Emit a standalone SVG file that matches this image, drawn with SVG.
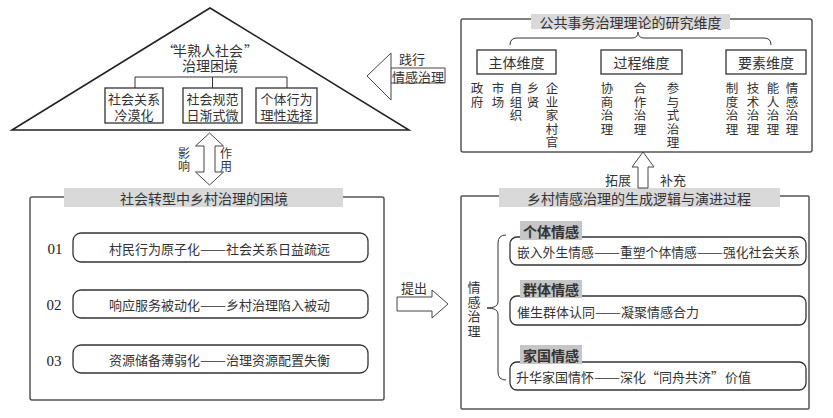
<svg xmlns="http://www.w3.org/2000/svg" width="833" height="418" viewBox="0 0 833 418">
<style>
text{font-family:"Noto Sans CJK SC","Noto Sans CJK TC",sans-serif;fill:#333;font-size:13px;dominant-baseline:central;text-anchor:middle}
.t14{font-size:14px}
.st{text-anchor:start}
.num{font-family:"Liberation Serif",serif;font-size:15px;fill:#222}
.hdr{font-size:14px;font-weight:bold;fill:#333}
.sm{font-size:12px}
.col{font-size:12.5px}
.outer{fill:none;stroke:#555;stroke-width:1.5}
.box{fill:#fff;stroke:#333;stroke-width:1.3}
.rbox{fill:#fff;stroke:#333;stroke-width:1.3}
.bar{fill:#d9d9d9}
.sbar{fill:#c6c6c6}
.ln{fill:none;stroke:#333;stroke-width:1}
.arr{fill:#fff;stroke:#444;stroke-width:1}
</style>
<rect width="833" height="418" fill="#fff"/>

<g id="triangle">
<path d="M12,130 L210,8 L409,130 Z" fill="#fff" stroke="#222" stroke-width="1.5"/>
<text class="t14 st" y="50"><tspan x="162">“</tspan><tspan x="173">半熟人社会</tspan><tspan x="244">”</tspan></text>
<text class="t14" x="210" y="65">治理困境</text>
</g>
<g id="tri-box1">
<rect class="box" x="105" y="88" width="58" height="35"/>
<text x="134" y="98.5">社会关系</text>
<text x="134" y="114">冷漠化</text>
</g>
<g id="tri-box2">
<rect class="box" x="183" y="88" width="59" height="35"/>
<text x="212.5" y="98.5">社会规范</text>
<text x="212.5" y="114">日渐式微</text>
</g>
<g id="tri-box3">
<rect class="box" x="256" y="88" width="61" height="35"/>
<text x="286.5" y="98.5">个体行为</text>
<text x="286.5" y="114">理性选择</text>
</g>

<g id="theory">
<rect class="outer" x="461" y="19" width="351" height="133" rx="2"/>
<rect class="bar" x="531" y="14" width="199" height="15"/>
<text class="t14" x="630.5" y="22">公共事务治理理论的研究维度</text>
</g>
<g id="dim-subject">
<rect class="box" x="477" y="50" width="79" height="24"/>
<text class="t14" x="516.5" y="62">主体维度</text>
<text class="col" x="477" y="87"><tspan x="477">政</tspan><tspan x="477" dy="13.5">府</tspan></text>
<text class="col" x="498" y="87"><tspan x="498">市</tspan><tspan x="498" dy="13.5">场</tspan></text>
<text class="col" x="516" y="87"><tspan x="516">自</tspan><tspan x="516" dy="13.5">组</tspan><tspan x="516" dy="13.5">织</tspan></text>
<text class="col" x="533" y="87"><tspan x="533">乡</tspan><tspan x="533" dy="13.5">贤</tspan></text>
<text class="col" x="552" y="87"><tspan x="552">企</tspan><tspan x="552" dy="13.5">业</tspan><tspan x="552" dy="13.5">家</tspan><tspan x="552" dy="13.5">村</tspan><tspan x="552" dy="13.5">官</tspan></text>
</g>
<g id="dim-process">
<rect class="box" x="601" y="50" width="81" height="24"/>
<text class="t14" x="641.5" y="62">过程维度</text>
<text class="col" x="607" y="87"><tspan x="607">协</tspan><tspan x="607" dy="13.5">商</tspan><tspan x="607" dy="13.5">治</tspan><tspan x="607" dy="13.5">理</tspan></text>
<text class="col" x="640" y="87"><tspan x="640">合</tspan><tspan x="640" dy="13.5">作</tspan><tspan x="640" dy="13.5">治</tspan><tspan x="640" dy="13.5">理</tspan></text>
<text class="col" x="673" y="87"><tspan x="673">参</tspan><tspan x="673" dy="13.5">与</tspan><tspan x="673" dy="13.5">式</tspan><tspan x="673" dy="13.5">治</tspan><tspan x="673" dy="13.5">理</tspan></text>
</g>
<g id="dim-element">
<rect class="box" x="726" y="50" width="80" height="24"/>
<text class="t14" x="766" y="62">要素维度</text>
<text class="col" x="732" y="87"><tspan x="732">制</tspan><tspan x="732" dy="13.5">度</tspan><tspan x="732" dy="13.5">治</tspan><tspan x="732" dy="13.5">理</tspan></text>
<text class="col" x="753" y="87"><tspan x="753">技</tspan><tspan x="753" dy="13.5">术</tspan><tspan x="753" dy="13.5">治</tspan><tspan x="753" dy="13.5">理</tspan></text>
<text class="col" x="773" y="87"><tspan x="773">能</tspan><tspan x="773" dy="13.5">人</tspan><tspan x="773" dy="13.5">治</tspan><tspan x="773" dy="13.5">理</tspan></text>
<text class="col" x="792" y="87"><tspan x="792">情</tspan><tspan x="792" dy="13.5">感</tspan><tspan x="792" dy="13.5">治</tspan><tspan x="792" dy="13.5">理</tspan></text>
</g>

<g id="dilemma">
<rect class="outer" x="30" y="197" width="354" height="203" rx="2"/>
<rect class="bar" x="64" y="188" width="279" height="19"/>
<text class="t14" x="204" y="198">社会转型中乡村治理的困境</text>
</g>
<g id="dilemma-01">
<text class="num" x="55" y="249">01</text>
<rect class="rbox" x="73" y="233" width="295" height="29" rx="8"/>
<text class="st" y="248"><tspan x="109">村民行为原子化</tspan><tspan x="200" textLength="26" lengthAdjust="spacingAndGlyphs">——</tspan><tspan x="226">社会关系日益疏远</tspan></text>
</g>
<g id="dilemma-02">
<text class="num" x="54" y="305">02</text>
<rect class="rbox" x="73" y="290" width="295" height="28" rx="8"/>
<text class="st" y="304"><tspan x="109">响应服务被动化</tspan><tspan x="200" textLength="26" lengthAdjust="spacingAndGlyphs">——</tspan><tspan x="226">乡村治理陷入被动</tspan></text>
</g>
<g id="dilemma-03">
<text class="num" x="54" y="361">03</text>
<rect class="rbox" x="73" y="345" width="295" height="28" rx="8"/>
<text class="st" y="359"><tspan x="109">资源储备薄弱化</tspan><tspan x="200" textLength="26" lengthAdjust="spacingAndGlyphs">——</tspan><tspan x="226">治理资源配置失衡</tspan></text>
</g>

<g id="emotion">
<rect class="outer" x="461" y="196" width="348" height="213" rx="1"/>
<rect class="bar" x="499" y="188" width="281" height="19"/>
<text class="t14" x="639" y="198">乡村情感治理的生成逻辑与演进过程</text>
<text x="474" y="286"><tspan x="474">情</tspan><tspan x="474" dy="14.5">感</tspan><tspan x="474" dy="14.5">治</tspan><tspan x="474" dy="14.5">理</tspan></text>
<path class="ln" d="M506,235 Q498,235 498,243 L498,302 Q498,308 487,308 Q498,308 498,314 L498,372 Q498,380 506,380"/>
</g>
<g id="emotion-individual">
<rect class="rbox" x="510" y="237" width="296" height="28" rx="7"/>
<rect class="sbar" x="520" y="221" width="62" height="19"/>
<text class="hdr" x="551" y="231">个体情感</text>
<text class="st" y="251" style="font-size:12.8px"><tspan x="517">嵌入外生情感</tspan><tspan x="594" textLength="26" lengthAdjust="spacingAndGlyphs">——</tspan><tspan x="620">重塑个体情感</tspan><tspan x="697" textLength="26" lengthAdjust="spacingAndGlyphs">——</tspan><tspan x="723">强化社会关系</tspan></text>
</g>
<g id="emotion-group">
<rect class="rbox" x="510" y="296" width="296" height="29" rx="7"/>
<rect class="sbar" x="520" y="280" width="62" height="18"/>
<text class="hdr" x="551" y="289">群体情感</text>
<text class="st" y="311"><tspan x="517">催生群体认同</tspan><tspan x="595" textLength="26" lengthAdjust="spacingAndGlyphs">——</tspan><tspan x="621">凝聚情感合力</tspan></text>
</g>
<g id="emotion-nation">
<rect class="rbox" x="510" y="362" width="296" height="28" rx="7"/>
<rect class="sbar" x="520" y="345" width="62" height="19"/>
<text class="hdr" x="551" y="355">家国情感</text>
<text class="st" y="376"><tspan x="516">升华家国情怀</tspan><tspan x="594" textLength="26" lengthAdjust="spacingAndGlyphs">——</tspan><tspan x="620">深化</tspan><tspan x="646">“</tspan><tspan x="659">同舟共济</tspan><tspan x="711">”</tspan><tspan x="725">价值</tspan></text>
</g>

<g id="connectors">
<path class="ln" d="M135,88 L135,77 L287,77 L287,88 M212.5,77 L212.5,88"/>
<path class="ln" d="M510,45 Q510,38 517,38 L632,38 Q638,38 638,32 Q638,38 644,38 L764,38 Q771,38 771,45"/>
<polygon class="arr" points="367,76 391,53 391,68 445,68 445,83 391,83 391,100"/>
<line class="ln" x1="391" y1="68" x2="391" y2="83"/>
<text x="412" y="58">践行</text>
<text x="418" y="76">情感治理</text>
<polygon class="arr" points="209.5,133 223.5,146 215,146 215,172 223.5,172 209.5,185 195.5,172 204,172 204,146 195.5,146"/>
<text class="sm" x="184" y="152"><tspan x="184">影</tspan><tspan x="184" dy="12.5">响</tspan></text>
<text class="sm" x="226" y="152"><tspan x="226">作</tspan><tspan x="226" dy="12.5">用</tspan></text>
<polygon class="arr" points="397,297 432,297 432,290 448,304 432,318 432,311 397,311"/>
<text x="414" y="287">提出</text>
<polygon class="arr" points="643,152 654,167 648,167 648,188 638,188 638,167 632,167"/>
<text x="618" y="179">拓展</text>
<text x="673" y="179">补充</text>
</g>
</svg>
